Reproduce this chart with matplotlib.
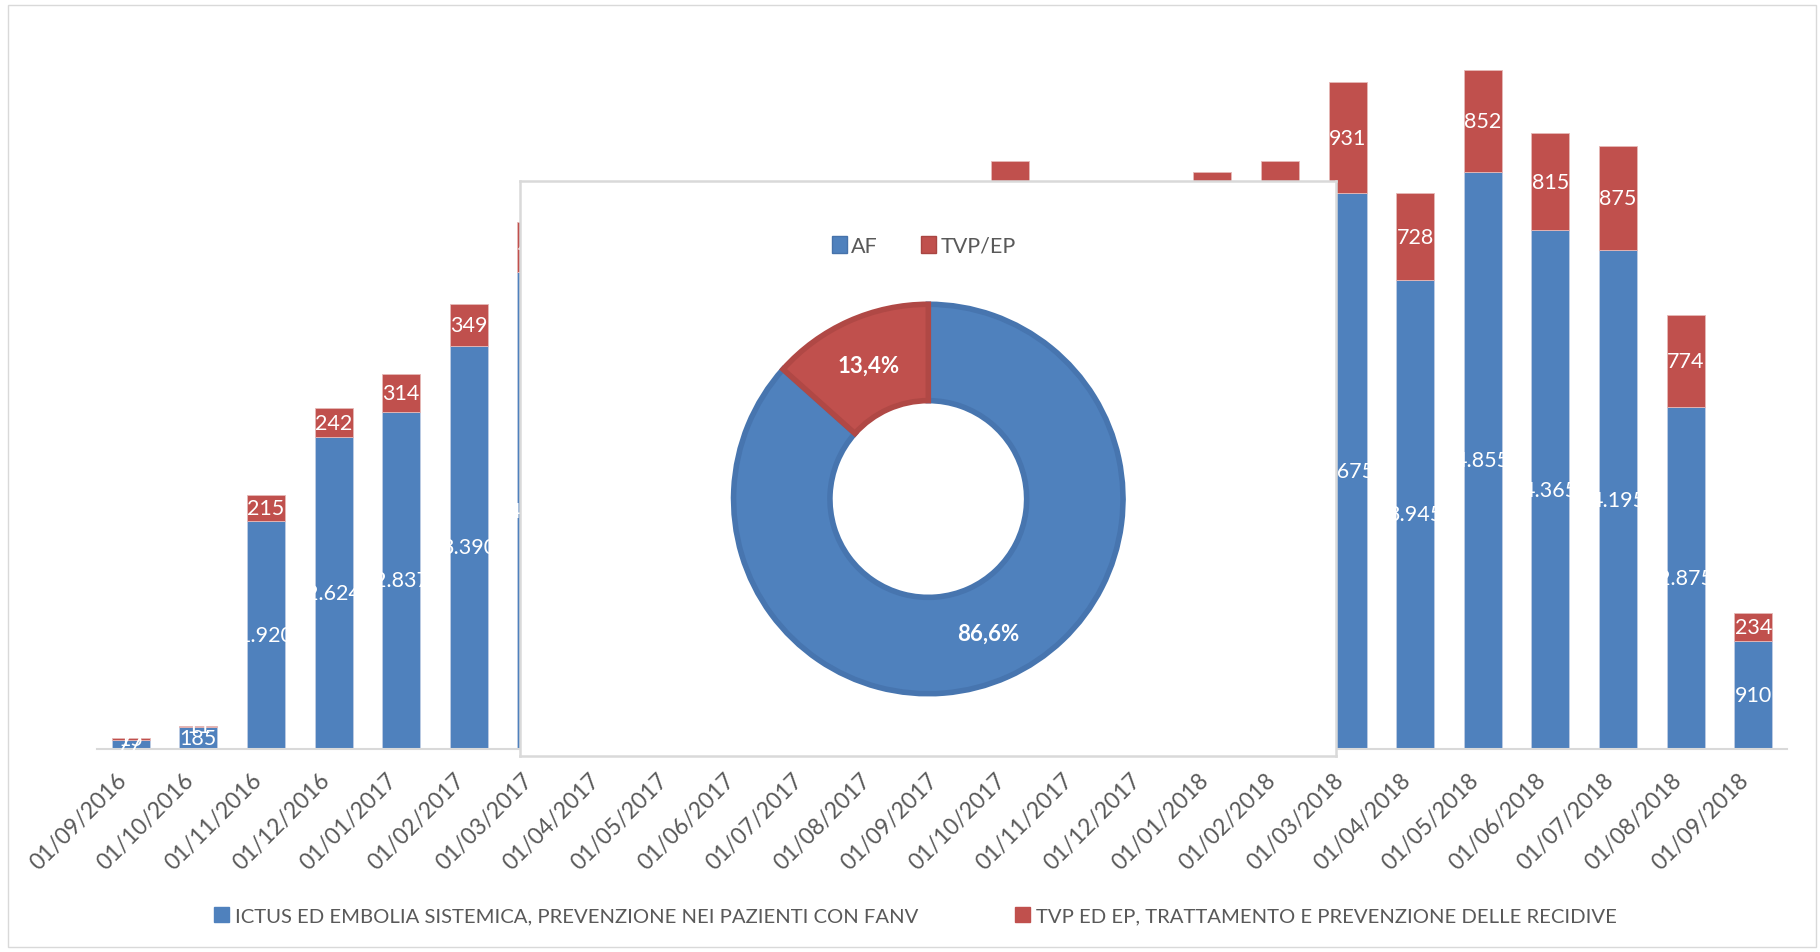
import matplotlib.pyplot as plt
import numpy as np
from matplotlib.patches import Patch, Rectangle

plt.rcParams['font.family'] = ['Lato', 'DejaVu Sans']

# dati mensili (pazienti trattati)
mesi = ['01/09/2016', '01/10/2016', '01/11/2016', '01/12/2016', '01/01/2017',
        '01/02/2017', '01/03/2017', '01/04/2017', '01/05/2017', '01/06/2017',
        '01/07/2017', '01/08/2017', '01/09/2017', '01/10/2017', '01/11/2017',
        '01/12/2017', '01/01/2018', '01/02/2018', '01/03/2018', '01/04/2018',
        '01/05/2018', '01/06/2018', '01/07/2018', '01/08/2018', '01/09/2018']
af = [77, 185, 1920, 2624, 2837, 3390, 4009, 3950, 4250, 4150, 4200, 3350, 4200,
      4300, 4150, 3700, 4150, 4180, 4675, 3945, 4855, 4365, 4195, 2875, 910]
tvp = [15, 11, 215, 242, 314, 349, 420, 430, 470, 480, 520, 470, 560,
       642, 590, 560, 705, 762, 931, 728, 852, 815, 875, 774, 234]
serie = ['ICTUS ED EMBOLIA SISTEMICA, PREVENZIONE NEI PAZIENTI CON FANV',
         'TVP ED EP, TRATTAMENTO E PREVENZIONE DELLE RECIDIVE']

# torta riassuntiva
quote_pie = [86.6, 13.4]
etichette_pie = ['AF', 'TVP/EP']

BLU = '#4F81BD'
ROSSO = '#C0504D'
GRIGIO = '#595959'
BORDO = '#D9D9D9'

W, H = 1820, 953
fig = plt.figure(figsize=(W / 100, H / 100), dpi=100)

# --- barre impilate ---
ax = fig.add_axes([97 / W, 1 - 750 / H, 1690 / W, 713.4 / H])
x = list(range(len(mesi)))
b1 = ax.bar(x, af, width=0.56, color=BLU, edgecolor='#BFCDE3', linewidth=0.6)
b2 = ax.bar(x, tvp, width=0.56, bottom=af, color=ROSSO, edgecolor='#E6B9B8', linewidth=0.6)


def fmt(v):
    return f'{v:,}'.replace(',', '.')


# etichette bianche al centro dei segmenti (come in Excel)
ax.bar_label(b1, labels=[fmt(v) for v in af], label_type='center', color='white', fontsize=15.5)
ax.bar_label(b2, labels=[fmt(v) for v in tvp], label_type='center', color='white', fontsize=15.5)

ax.set_xlim(-0.5, len(mesi) - 0.5)
ax.set_ylim(0, 6000)
ax.set_xticks(x)
ax.set_xticklabels(mesi, rotation=45, ha='right', va='top', color=GRIGIO, fontsize=16.5)
ax.tick_params(axis='x', length=0, pad=14)
ax.set_yticks([])
for s in ['top', 'right', 'left']:
    ax.spines[s].set_visible(False)
ax.spines['bottom'].set_color(BORDO)
ax.spines['bottom'].set_linewidth(1.5)

fig.legend(handles=[Patch(color=BLU), Patch(color=ROSSO)], labels=serie,
           loc='center', bbox_to_anchor=(0.503, 1 - 917 / H), ncol=2, frameon=False,
           fontsize=14.6, handlelength=0.7, handleheight=0.7, handletextpad=0.3,
           columnspacing=4.8, labelcolor=GRIGIO)

# --- riquadro con la torta ---
ins = fig.add_axes([520 / W, 1 - 757 / H, 816 / W, 575 / H])
ins.set_zorder(3)
ins.set_facecolor('white')
ins.set_xticks([])
ins.set_yticks([])
for s in ins.spines.values():
    s.set_color(BORDO)
    s.set_linewidth(1.8)
ins.legend(handles=[Patch(facecolor=BLU, edgecolor='#4672AA'), Patch(facecolor=ROSSO, edgecolor='#A94542')],
           labels=etichette_pie, loc='center', bbox_to_anchor=(0.495, 0.887), ncol=2,
           frameon=False, fontsize=15.5, handlelength=0.7, handleheight=0.8,
           handletextpad=0.2, columnspacing=2.0, labelcolor=GRIGIO)

r_px = 196.7
lim = 1.05
cx, cy = 928.3, 500
pa = fig.add_axes([(cx - r_px * lim) / W, 1 - (cy + r_px * lim) / H, 2 * r_px * lim / W, 2 * r_px * lim / H])
pa.set_zorder(4)
wedges, _ = pa.pie(quote_pie, colors=[BLU, ROSSO], startangle=90, counterclock=False,
                   radius=0.99, wedgeprops=dict(width=0.49, linewidth=4))
wedges[0].set_edgecolor('#4775AF')
wedges[1].set_edgecolor('#B04845')
for w, q in zip(wedges, quote_pie):
    ang = np.deg2rad((w.theta1 + w.theta2) / 2)
    pa.text(0.745 * np.cos(ang), 0.745 * np.sin(ang), f'{q:.1f}%'.replace('.', ','),
            ha='center', va='center', color='white', fontsize=16, fontweight='bold')
pa.set_xlim(-lim, lim)
pa.set_ylim(-lim, lim)
pa.axis('off')

# cornice esterna
fig.add_artist(Rectangle((8 / W, 5 / H), 1808 / W, 942 / H, transform=fig.transFigure,
                         fill=False, edgecolor=BORDO, linewidth=1))

fig.savefig('out.png', dpi=100)
